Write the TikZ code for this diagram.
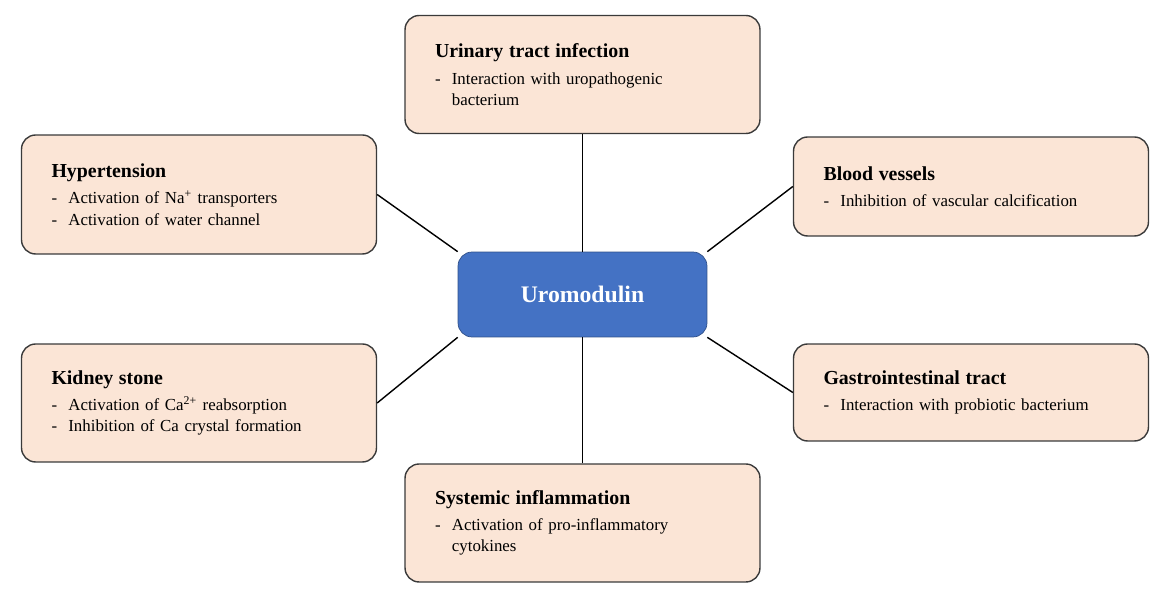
\documentclass[tikz,border=0pt]{standalone}
\usepackage{fontspec}
\setmainfont{Liberation Serif}
\usetikzlibrary{positioning}
\definecolor{peach}{HTML}{FBE5D6}
\definecolor{uroblue}{HTML}{4472C4}
\definecolor{edgegray}{HTML}{3A3A3A}
\tikzset{
    rolebox/.style={rectangle, rounded corners=8pt, draw=edgegray, thick, fill=peach,
        minimum width=7.1cm, text width=5.9cm, inner xsep=0.6cm, align=left,
        font=\fontsize{9.6}{12}\selectfont},
    centerbox/.style={rectangle, rounded corners=8pt, draw=uroblue!70!black, fill=uroblue,
        minimum width=4.98cm, minimum height=1.7cm, text=white,
        font=\fontsize{13.5}{16}\selectfont\bfseries},
    link/.style={thick, draw=black},
}
\newcommand{\boxtitle}[1]{{\fontsize{11.3}{14}\selectfont\bfseries #1}\\[3pt]}
\begin{document}
\begin{tikzpicture}[x=0.02cm, y=-0.02cm]
\useasboundingbox (0,0) rectangle (1171,607);

\node (uro) [centerbox] at (582.5,294.5) {Uromodulin};

\node (uti) [rolebox, minimum height=2.36cm] at (582.5,74.5)
    {\boxtitle{Urinary tract infection}- \ Interaction with uropathogenic\\ \phantom{- \ }bacterium};
\node (hyp) [rolebox, minimum height=2.38cm] at (199,194.5)
    {\boxtitle{Hypertension}- \ Activation of Na\textsuperscript{+} transporters\\- \ Activation of water channel};
\node (vessel) [rolebox, minimum height=1.98cm] at (971,186.5)
    {\boxtitle{Blood vessels}- \ Inhibition of vascular calcification};
\node (stone) [rolebox, minimum height=2.36cm] at (199,403)
    {\boxtitle{Kidney stone}- \ Activation of Ca\textsuperscript{2+} reabsorption\\- \ Inhibition of Ca crystal formation};
\node (gut) [rolebox, minimum height=1.94cm] at (971,392.5)
    {\boxtitle{Gastrointestinal tract}- \ Interaction with probiotic bacterium};
\node (infl) [rolebox, minimum height=2.36cm] at (582.5,523)
    {\boxtitle{Systemic inflammation}- \ Activation of pro-inflammatory\\ \phantom{- \ }cytokines};

\draw [link] (uti) -- (uro);
\draw [link] (hyp.east) -- (uro.north west);
\draw [link] (vessel.west) -- (uro.north east);
\draw [link] (stone.east) -- (uro.south west);
\draw [link] (gut.west) -- (uro.south east);
\draw [link] (infl) -- (uro);

\end{tikzpicture}
\end{document}
